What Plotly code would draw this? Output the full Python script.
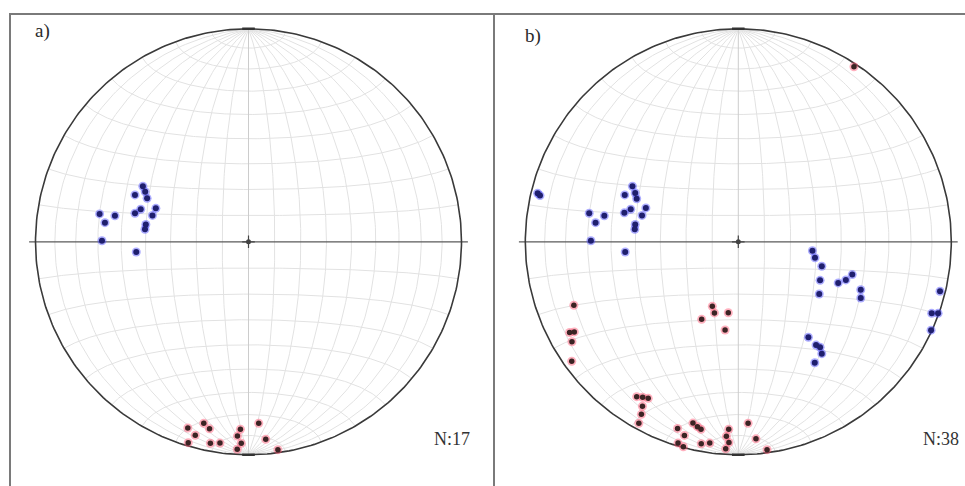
import numpy as np
import plotly.graph_objects as go

# ---------------- data (net units, primitive circle radius = 100) ----------------
# Panel a)
a_blue_x = [-49.6, -48.5, -47.6, -53.3, -69.9, -62.7, -67.4, -53.3, -50.6, -43.5, -45.1, -48.2, -48.6, -68.8, -52.7]
a_blue_y = [26.1, 23.5, 20.4, 22.0, 13.1, 12.2, 9.0, 13.4, 15.3, 15.7, 12.4, 8.1, 5.9, 0.5, -4.8]
a_red_x = [-28.5, -25.0, -28.3, -21.0, -18.3, -17.9, -13.4, -3.8, -5.2, -3.4, -5.3, 4.8, 8.1, 13.8]
a_red_y = [-87.4, -90.8, -94.3, -85.2, -87.8, -94.6, -94.5, -88.0, -91.2, -94.6, -97.4, -85.2, -92.7, -97.6]

# Panel b)
b_blue_x = [-94.2, -93.1, -53.3, -49.7, -48.4, -47.7, -70.0, -67.0, -62.9, -53.5, -50.5, -43.4, -45.2,
            -48.4, -48.6, -69.2, -53.1,
            34.8, 36.0, 39.2, 38.4, 38.0, 46.9, 50.5, 53.5, 57.5, 57.5,
            32.9, 36.5, 38.4, 39.2, 35.9,
            94.7, 90.8, 93.8, 90.5]
b_blue_y = [22.8, 21.7, 22.0, 26.1, 22.9, 20.2, 13.4, 9.0, 12.2, 13.6, 15.3, 15.9, 12.4,
            8.1, 5.9, 0.5, -4.8,
            -4.2, -7.5, -11.5, -18.1, -24.5, -19.3, -17.9, -15.4, -22.5, -26.4,
            -44.8, -48.5, -49.5, -52.5, -56.8,
            -23.2, -33.6, -33.6, -41.5]
b_red_x = [54.3,
           -77.2, -79.2, -77.0, -78.1, -78.2,
           -17.2, -12.2, -11.2, -4.7, -6.2,
           -47.7, -44.9, -42.3, -45.0, -45.5, -46.7,
           -28.5, -25.3, -28.3, -25.8, -21.3, -19.2, -17.5, -17.4, -13.4,
           -4.5, -5.6, -4.4, -5.9, 4.6, 8.3, 13.5]
b_red_y = [82.2,
           -29.8, -42.6, -42.3, -46.9, -56.1,
           -36.4, -30.3, -33.4, -33.3, -41.4,
           -72.7, -73.0, -73.5, -77.2, -81.0, -85.2,
           -87.6, -90.9, -94.5, -96.2, -85.1, -86.8, -88.0, -94.8, -94.5,
           -88.0, -91.3, -94.2, -97.2, -85.2, -92.5, -97.6]

panel_labels = ["a)", "b)"]
count_labels = ["N:17", "N:38"]
grid_step_deg = 10

# ---------------- layout constants (pixels) ----------------
W, H = 965, 486
R_PX = 2.13          # pixels per net unit
CY = 241.8
CX = [248.5, 738.3]
EXT = 104            # axis half-range in net units


def px_x(x):
    return x / W


def px_y(y):
    return 1 - y / H


def schmidt(phi_deg, lam_deg):
    phi = np.radians(phi_deg)
    lam = np.radians(lam_deg)
    k = np.sqrt(2.0 / (1.0 + np.cos(phi) * np.cos(lam)))
    x = k * np.cos(phi) * np.sin(lam) / np.sqrt(2) * 100
    y = k * np.sin(phi) / np.sqrt(2) * 100
    return x, y


def net_grid():
    gx, gy = [], []
    t = np.linspace(-90, 90, 181)
    for lam in range(-90 + grid_step_deg, 90, grid_step_deg):
        if lam == 0:
            continue
        x, y = schmidt(t, np.full_like(t, lam))
        gx += list(x) + [None]
        gy += list(y) + [None]
    for phi in range(-90 + grid_step_deg, 90, grid_step_deg):
        if phi == 0:
            continue
        x, y = schmidt(np.full_like(t, phi), t)
        gx += list(x) + [None]
        gy += list(y) + [None]
    return gx, gy


fig = go.Figure()
gx, gy = net_grid()
th = np.linspace(0, 2 * np.pi, 361)

panels = [
    (a_blue_x, a_blue_y, a_red_x, a_red_y),
    (b_blue_x, b_blue_y, b_red_x, b_red_y),
]

for i, (bx, by, rx, ry) in enumerate(panels):
    xa = "x" if i == 0 else "x2"
    ya = "y" if i == 0 else "y2"
    common = dict(xaxis=xa, yaxis=ya, hoverinfo="skip", showlegend=False)
    # grid
    fig.add_trace(go.Scatter(x=gx, y=gy, mode="lines",
                             line=dict(color="#e2e2e2", width=1), **common))
    # N-S diameter
    fig.add_trace(go.Scatter(x=[0, 0], y=[-100, 100], mode="lines",
                             line=dict(color="#cccccc", width=1), **common))
    # equator (extends past primitive)
    fig.add_trace(go.Scatter(x=[-103, 103], y=[0, 0], mode="lines",
                             line=dict(color="#5a5a5a", width=1.2), **common))
    # primitive circle
    fig.add_trace(go.Scatter(x=100 * np.cos(th), y=100 * np.sin(th), mode="lines",
                             line=dict(color="#3a3a3a", width=1.6), **common))
    # N / S ticks and centre
    fig.add_trace(go.Scatter(x=[0, 0], y=[100, -100], mode="markers",
                             marker=dict(symbol="line-ew-open", size=9, color="#333",
                                         line=dict(color="#333", width=2.5)), **common))
    fig.add_trace(go.Scatter(x=[0], y=[0], mode="markers",
                             marker=dict(symbol="circle", size=5, color="#444"), **common))
    fig.add_trace(go.Scatter(x=[0], y=[0], mode="markers",
                             marker=dict(symbol="cross-thin-open", size=9, color="#444",
                                         line=dict(color="#444", width=1.2)), **common))
    # halos
    fig.add_trace(go.Scatter(x=bx, y=by, mode="markers",
                             marker=dict(size=9, color="rgba(70,70,255,0.45)"), **common))
    fig.add_trace(go.Scatter(x=rx, y=ry, mode="markers",
                             marker=dict(size=9, color="rgba(255,80,110,0.45)"), **common))
    # cores
    fig.add_trace(go.Scatter(x=bx, y=by, mode="markers",
                             marker=dict(size=6, color="#1f1f6e"), **common))
    fig.add_trace(go.Scatter(x=rx, y=ry, mode="markers",
                             marker=dict(size=5.5, color="#3b2424"), **common))

axis_common = dict(visible=False, range=[-EXT, EXT], fixedrange=True)
half = EXT * R_PX
fig.update_layout(
    width=W, height=H,
    margin=dict(l=0, r=0, t=0, b=0),
    paper_bgcolor="white", plot_bgcolor="rgba(0,0,0,0)",
    xaxis=dict(domain=[px_x(CX[0] - half), px_x(CX[0] + half)], anchor="y", **axis_common),
    yaxis=dict(domain=[px_y(CY + half), px_y(CY - half)], anchor="x", **axis_common),
    xaxis2=dict(domain=[px_x(CX[1] - half), px_x(CX[1] + half)], anchor="y2", **axis_common),
    yaxis2=dict(domain=[px_y(CY + half), px_y(CY - half)], anchor="x2", **axis_common),
)

# frame lines
line_style = dict(color="#7a7a7a", width=2)
fig.add_shape(type="line", xref="paper", yref="paper",
              x0=px_x(9), x1=1, y0=px_y(14), y1=px_y(14), line=line_style)
fig.add_shape(type="line", xref="paper", yref="paper",
              x0=px_x(10), x1=px_x(10), y0=px_y(14), y1=0, line=line_style)
fig.add_shape(type="line", xref="paper", yref="paper",
              x0=px_x(494), x1=px_x(494), y0=px_y(14), y1=0, line=line_style)

font = dict(family="Liberation Serif, Times New Roman, serif", size=19, color="#2a2a2a")
label_pos = [(33, 31), (523, 36)]
count_pos = [(432, 439), (921, 439)]
for i in range(2):
    fig.add_annotation(text=panel_labels[i], xref="paper", yref="paper",
                       x=px_x(label_pos[i][0]), y=px_y(label_pos[i][1]),
                       xanchor="left", yanchor="middle", showarrow=False, font=font)
    fig.add_annotation(text=count_labels[i], xref="paper", yref="paper",
                       x=px_x(count_pos[i][0]), y=px_y(count_pos[i][1]),
                       xanchor="left", yanchor="middle", showarrow=False,
                       font=dict(family=font["family"], size=18, color="#333"))

fig.write_html("out.html",
               config={"displayModeBar": False, "staticPlot": True},
               post_script="document.body.style.margin='0px';document.body.style.overflow='hidden';")
